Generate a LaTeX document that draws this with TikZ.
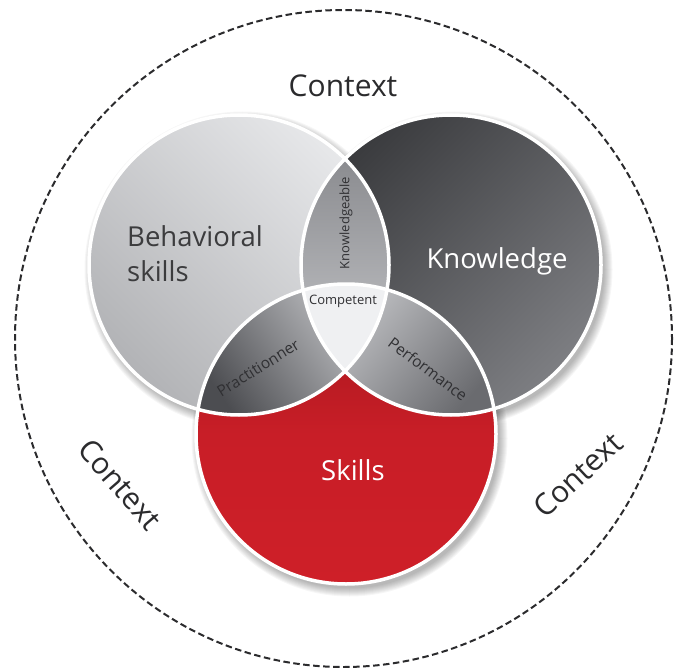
\documentclass[tikz,border=0pt]{standalone}
\usepackage{fontspec}
\setmainfont{Open Sans}
\definecolor{bTop}{HTML}{E7E8EA}
\definecolor{bBot}{HTML}{B2B3B6}
\definecolor{kTop}{HTML}{3A3B3E}
\definecolor{kBot}{HTML}{7D7E82}
\definecolor{sTop}{HTML}{A2161C}
\definecolor{sMid}{HTML}{C81E27}
\definecolor{sBot}{HTML}{CE1F28}
\definecolor{knTop}{HTML}{8A8B8F}
\definecolor{knBot}{HTML}{C6C7CA}
\definecolor{prDark}{HTML}{4C4D51}
\definecolor{prLight}{HTML}{CDCED1}
\definecolor{pfLight}{HTML}{CDCED1}
\definecolor{pfDark}{HTML}{6A6B6F}
\definecolor{compFill}{HTML}{EFF0F2}
\definecolor{ctxText}{HTML}{2B2B2D}
\definecolor{behText}{HTML}{3C3C3E}
\definecolor{smallText}{HTML}{303033}
\tikzset{
  ring/.style={draw=white, line width=3.5pt},
  ctxlabel/.style={font=\fontsize{30}{36}\selectfont, text=ctxText},
  biglabel/.style={font=\fontsize{27.5}{35}\selectfont},
  smalllabel/.style={font=\fontsize{13}{15}\selectfont, text=smallText},
  midlabel/.style={font=\fontsize{15.5}{18}\selectfont, text=smallText},
}
\begin{document}
\begin{tikzpicture}[x=1pt,y=-1pt]
\useasboundingbox (0,0) rectangle (682,668);
\coordinate (O) at (343.5,338.5);
\coordinate (B) at (239,265);
\coordinate (K) at (451,265);
\coordinate (S) at (346,434);
% outer dashed context circle
\draw[dash pattern=on 6.5pt off 3.5pt, line width=2pt, color=ctxText] (O) circle (328.5);
% soft shadows
\foreach \p in {B,K,S}{
  \foreach \i in {0,...,8}{
    \fill[black, opacity=0.035] ([shift={(3.5,4.5)}]\p) circle (158-\i);
  }
}
% main circles
\shade[top color=bTop, bottom color=bBot, shading angle=-45] (B) circle (150);
\shade[top color=kTop, bottom color=kBot, shading angle=45] (K) circle (150);
\shade[top color=sTop, bottom color=sBot, middle color=sMid, shading angle=0] (S) circle (150);
% Knowledgeable lens (B and K)
\begin{scope}
  \clip (B) circle (150);
  \clip (K) circle (150);
  \shade[top color=knTop, bottom color=knBot] (298,155) rectangle (394,375);
\end{scope}
% Practitionner lens (B and S)
\begin{scope}
  \clip (B) circle (150);
  \clip (S) circle (150);
  \shade[top color=prLight, bottom color=prDark, shading angle=-55] (195,282) rectangle (392,418);
\end{scope}
% Performance lens (K and S)
\begin{scope}
  \clip (K) circle (150);
  \clip (S) circle (150);
  \shade[top color=pfLight, bottom color=pfDark, shading angle=50] (300,282) rectangle (498,418);
\end{scope}
% Competent (all three)
\begin{scope}
  \clip (B) circle (150);
  \clip (K) circle (150);
  \clip (S) circle (150);
  \fill[compFill] (290,270) rectangle (400,380);
\end{scope}
% white rings
\draw[ring] (B) circle (150);
\draw[ring] (K) circle (150);
\draw[ring] (S) circle (150);
% labels
\node[ctxlabel, anchor=base] (ctxtop) at (343,97) {Context};
\node[ctxlabel, rotate=-49] (ctxleft) at (120,484) {Context};
\node[ctxlabel, rotate=43] (ctxright) at (578,475) {Context};
\node[biglabel, text=behText, align=left, anchor=west, inner sep=0pt] (beh) at (127,254) {Behavioral\\skills};
\node[biglabel, text=white, anchor=base] (know) at (497,268) {Knowledge};
\node[biglabel, text=white, anchor=base] (skills) at (353,480) {Skills};
\node[smalllabel, rotate=90] (knowable) at (346,223) {Knowledgeable};
\node[smalllabel] (comp) at (343,301) {Competent};
\node[midlabel, rotate=32] (prac) at (258,368) {Practitionner};
\node[midlabel, rotate=-37] (perf) at (428,369) {Performance};
\end{tikzpicture}
\end{document}
